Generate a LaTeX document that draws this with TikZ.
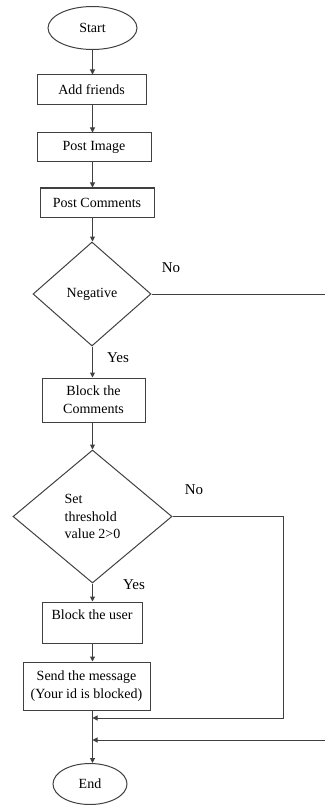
\documentclass[tikz,border=0pt]{standalone}
\usepackage{fontspec}
\setmainfont{Liberation Serif}
\usetikzlibrary{shapes.geometric,arrows.meta}
\tikzset{
  ln/.style={draw=black!75, line width=1pt},
  arr/.style={ln, -{Triangle[length=5pt,width=5pt]}},
  proc/.style={draw=black!75, line width=1pt, rectangle, inner sep=0pt, align=center, font=\fontsize{14}{18}\selectfont},
  term/.style={draw=black!75, line width=1pt, ellipse, inner sep=0pt, font=\fontsize{14}{18}\selectfont},
  dec/.style={draw=black!75, line width=1pt, diamond, inner sep=0pt, align=left, font=\fontsize{14}{17.5}\selectfont},
  txt/.style={inner sep=0pt, font=\fontsize{14}{18}\selectfont},
  lab/.style={inner sep=0pt, font=\fontsize{15}{18}\selectfont}
}
\begin{document}
\begin{tikzpicture}[x=1pt,y=-1pt]
\useasboundingbox (0,0) rectangle (325,805);
\coordinate (ax) at (92.5,0);
\node[term, minimum width=89pt, minimum height=43pt] (start) at (92.5,28) {Start};
\node[proc, minimum width=109pt, minimum height=30pt] (af) at (91.5,90) {Add friends};
\node[proc, minimum width=114pt, minimum height=29pt] (pi) at (94,147.5) {Post Image};
\node[proc, minimum width=114pt, minimum height=29pt] (pc) at (97,202.5) {Post Comments};
\node[dec, minimum width=118pt, minimum height=104pt] (neg) at (92,294) {Negative};
\node[proc, minimum width=103pt, minimum height=44pt] (bc) at (93.5,400) {Block the\\Comments};
\node[dec, minimum width=159pt, minimum height=133pt] (thr) at (92.5,516.5) {Set\\threshold\\value 2>0};
\node[proc, minimum width=100pt, minimum height=41pt] (bu) at (92,622.5) {};
\node[txt] (butxt) at (92,615) {Block the user};
\node[proc, minimum width=127pt, minimum height=48pt] (sm) at (86.5,686) {Send the message\\(Your id is blocked)};
\node[term, minimum width=74pt, minimum height=41pt] (end) at (90,784) {End};

\coordinate (r1) at (325,294);
\coordinate (k1) at (283,718);
\coordinate (j1) at (92.5,718);
\coordinate (r2) at (325,740);
\coordinate (j2) at (92.5,740);

\draw[arr] (start.south -| ax) -- (af.north -| ax);
\draw[arr] (af.south -| ax) -- (pi.north -| ax);
\draw[arr] (pi.south -| ax) -- (pc.north -| ax);
\draw[arr] (pc.south -| ax) -- (neg.north -| ax);
\draw[arr] (neg.south -| ax) -- (bc.north -| ax);
\draw[arr] (bc.south -| ax) -- (thr.north -| ax);
\draw[arr] (thr.south -| ax) -- (bu.north -| ax);
\draw[arr] (bu.south -| ax) -- (sm.north -| ax);
\draw[arr] (sm.south -| ax) -- (end.north -| ax);
\draw[ln] (neg.east) -- (r1);
\draw[arr] (thr.east) -| (k1) -- (j1);
\draw[arr] (r2) -- (j2);

\node[lab] (no1) at (171,268) {No};
\node[lab] (yes1) at (118,358) {Yes};
\node[lab] (no2) at (194,490) {No};
\node[lab] (yes2) at (134,585) {Yes};
\end{tikzpicture}
\end{document}
